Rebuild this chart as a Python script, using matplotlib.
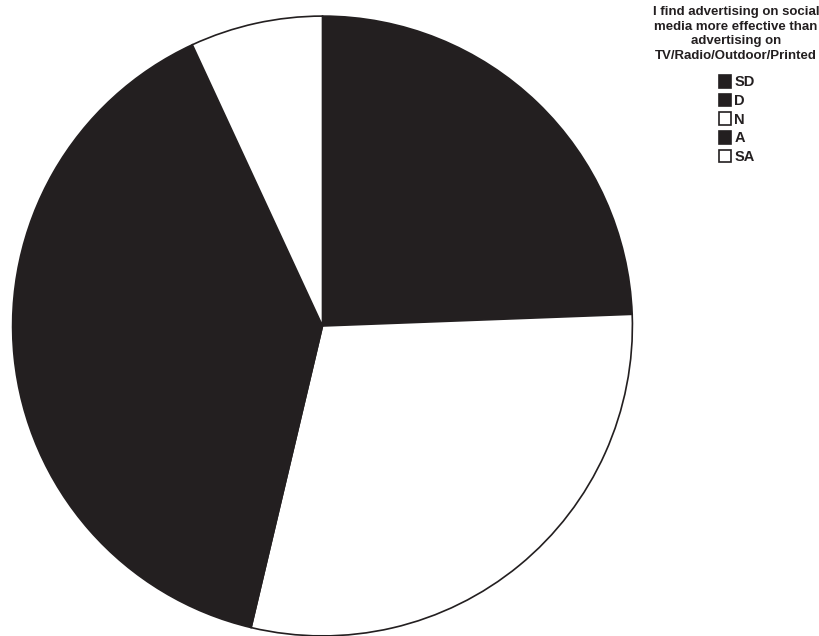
import matplotlib
matplotlib.use("Agg")
import matplotlib.pyplot as plt

# answers to: I find advertising on social media more effective than advertising on TV/Radio/Outdoor/Printed
categories = ['SD', 'D', 'N', 'A', 'SA']
shares = [0.0, 24.4, 29.3, 39.4, 6.9]
colors = ['#231f20', '#231f20', '#ffffff', '#231f20', '#ffffff']
legend_title = 'I find advertising on social\nmedia more effective than\nadvertising on\nTV/Radio/Outdoor/Printed'

plt.rcParams['font.family'] = ['Liberation Sans', 'DejaVu Sans']

W, H = 820, 636
fig = plt.figure(figsize=(W / 100, H / 100), dpi=100)
# pie centre ~ (322, 326) px, radius ~313 px
ax = fig.add_axes([9.5 / W, -3 / H, 626 / W, 626 / H])
wedges, _ = ax.pie(shares, colors=colors, startangle=90, counterclock=False,
                   radius=1.0, wedgeprops=dict(edgecolor='#231f20', linewidth=1.2))
ax.set_xlim(-1.01, 1.01)
ax.set_ylim(-1.01, 1.01)
ax.set_aspect('equal')
ax.axis('off')

# legend title drawn as its own text so it sits like the original
fig.text(736 / W, 1 - 6 / H, legend_title, ha='center', va='top', fontsize=9.5,
         fontweight='bold', linespacing=1.3, color='#231f20')

leg = fig.legend(wedges, categories, loc='upper left',
                 bbox_to_anchor=(719 / W, 1 - 75 / H), frameon=False,
                 prop=dict(size=10.5, weight='bold'), handlelength=0.85, handleheight=0.95,
                 handletextpad=0.2, labelspacing=0.3, borderpad=0, borderaxespad=0)
for t in leg.get_texts():
    t.set_color('#231f20')

fig.savefig('out.png', dpi=100)
